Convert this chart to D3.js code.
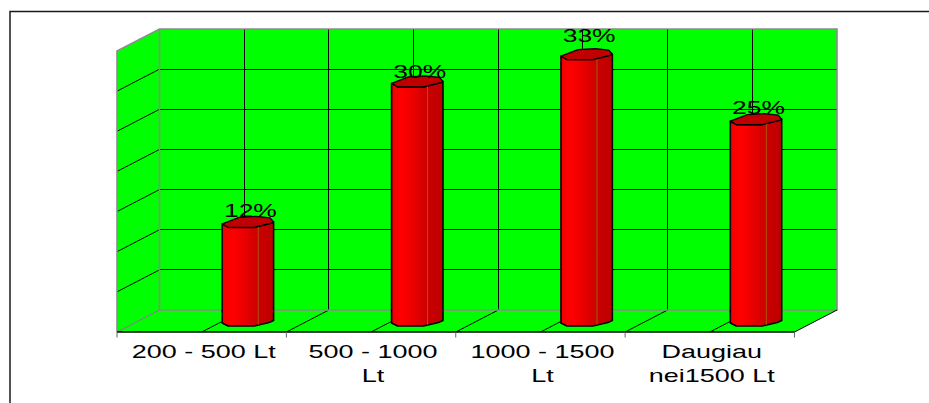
<!DOCTYPE html>
<html><head><meta charset="utf-8">
<script src="https://cdnjs.cloudflare.com/ajax/libs/d3/7.8.5/d3.min.js"></script>
<style>html,body{margin:0;padding:0;background:#fff;overflow:hidden}svg{display:block}text{font-family:"Liberation Sans",Arial,sans-serif;fill:#000}</style>
</head><body><svg id="c" width="929" height="403"></svg>
<script>
const categories=[["200 - 500 Lt"],["500 - 1000","Lt"],["1000 - 1500","Lt"],["Daugiau","nei1500 Lt"]];
const values=[12.1,29.6,33,24.9];
const labels=["12%","30%","33%","25%"];
const labelLevels=[12.9,30.3,34.8,25.8];
const gridTicks=[0,5,10,15,20,25,30,35];

const svg=d3.select("#c");
const x=d3.scaleLinear().domain([0,4]).range([117,794.5]);
const y=d3.scaleLinear().domain([0,35]).range([332,51]);
const dx=42.5,dy=-22;
const GREY="#8c8c8c";
const P=a=>a.map(p=>p.join(",")).join(" ");
svg.append("path").attr("d","M10,403V11.5H929").attr("fill","none").attr("stroke","#1a1a1a").attr("stroke-width",1.5);
// walls
svg.append("polygon").attr("points",P([[x(0)+dx,y(35)+dy],[x(4)+dx,y(35)+dy],[x(4)+dx,y(0)+dy],[x(0)+dx,y(0)+dy]])).attr("fill","#00ff00");
svg.append("polygon").attr("points",P([[x(0),y(35)],[x(0)+dx,y(35)+dy],[x(0)+dx,y(0)+dy],[x(0),y(0)]])).attr("fill","#00ff00");
svg.append("polygon").attr("points",P([[x(0),y(0)],[x(0)+dx,y(0)+dy],[x(4)+dx,y(0)+dy],[x(4),y(0)]])).attr("fill","#00ff00");
// grid
const g=svg.append("g").attr("stroke","#000").attr("stroke-width",1).attr("shape-rendering","crispEdges");
gridTicks.slice(1,-1).forEach(t=>{
  g.append("line").attr("x1",x(0)+dx).attr("x2",x(4)+dx).attr("y1",y(t)+dy).attr("y2",y(t)+dy);
});
const g2=svg.append("g").attr("stroke","#000").attr("stroke-width",1);
gridTicks.slice(1,-1).forEach(t=>{
  g2.append("line").attr("x1",x(0)).attr("x2",x(0)+dx).attr("y1",y(t)).attr("y2",y(t)+dy);
});
d3.range(0.5,4,0.5).forEach(c=>{
  g.append("line").attr("x1",x(c)+dx).attr("x2",x(c)+dx).attr("y1",y(35)+dy).attr("y2",y(0)+dy);
  g2.append("line").attr("x1",x(c)).attr("x2",x(c)+dx).attr("y1",y(0)).attr("y2",y(0)+dy);
});
// wall edges
const e=svg.append("g").attr("fill","none").attr("stroke",GREY).attr("stroke-width",1.6);
e.append("polyline").attr("points",P([[x(0),y(0)],[x(0),y(35)],[x(0)+dx,y(35)+dy],[x(4)+dx,y(35)+dy],[x(4)+dx,y(0)+dy],[x(0)+dx,y(0)+dy],[x(0)+dx,y(35)+dy]]));
e.append("line").attr("x1",x(0)).attr("y1",y(0)).attr("x2",x(0)+dx).attr("y2",y(0)+dy).attr("stroke","#a060a0").attr("stroke-width",1);
svg.append("line").attr("x1",x(4)).attr("y1",y(0)).attr("x2",x(4)+dx).attr("y2",y(0)+dy).attr("stroke","#000");
svg.append("line").attr("x1",x(0)).attr("x2",x(4)).attr("y1",y(0)).attr("y2",y(0)).attr("stroke","#000").attr("stroke-width",1.6);
// ticks
d3.range(0,5).forEach(c=>svg.append("line").attr("x1",x(c)).attr("x2",x(c)).attr("y1",y(0)).attr("y2",y(0)+5.5).attr("stroke","#666"));
// bars
const grad=svg.append("defs").append("linearGradient").attr("id","bar").attr("x1",0).attr("x2",1).attr("y1",0).attr("y2",0);
[[0,"#f00000"],[.2,"#ff0000"],[.45,"#e80000"],[.68,"#cc0000"],[1,"#bc0000"]].forEach(s=>grad.append("stop").attr("offset",s[0]).attr("stop-color",s[1]));
values.forEach((v,i)=>{
  const cx=x(i+.5)+dx+3.7, l=cx-25.7, r=cx+25.7;
  const T=y(v)+dy/2, B=y(0)-9;
  const body=[[l,T],[l+6,T+3.5],[l+32,T+3.5],[r-1.5,T-1],[r,T-2],[r,B-2.5],[r-4.5,B-.5],[l+32,B+3],[l+6,B+3],[l,B]];
  svg.append("polygon").attr("points",P(body)).attr("fill","url(#bar)").attr("stroke","#000").attr("stroke-width",1.6).attr("stroke-linejoin","round");
  svg.append("polygon").attr("points",P([[l,T],[l+6,T+3.5],[l+32,T+3.5],[r-1.5,T-1],[r,T-2],[r-3.5,T-6],[l+34,T-7.5],[l+17,T-6.5]])).attr("fill","#c00000").attr("stroke","#000").attr("stroke-width",1.3).attr("stroke-linejoin","round");
  svg.append("line").attr("x1",l+36).attr("x2",l+36).attr("y1",T+3).attr("y2",B+2).attr("stroke","#a86a00").attr("stroke-width",.8);
  svg.append("text").attr("transform",`translate(${cx+2.5},${y(labelLevels[i])+dy/2}) scale(1.47,1)`).attr("text-anchor","middle").attr("font-size",18).text(labels[i]);
});
// category labels
categories.forEach((c,i)=>{
  c.forEach((s,k)=>svg.append("text").attr("transform",`translate(${x(i+.5)+2},${358+k*23.7}) scale(1.5,1)`).attr("text-anchor","middle").attr("font-size",18).text(s));
});
</script></body></html>
